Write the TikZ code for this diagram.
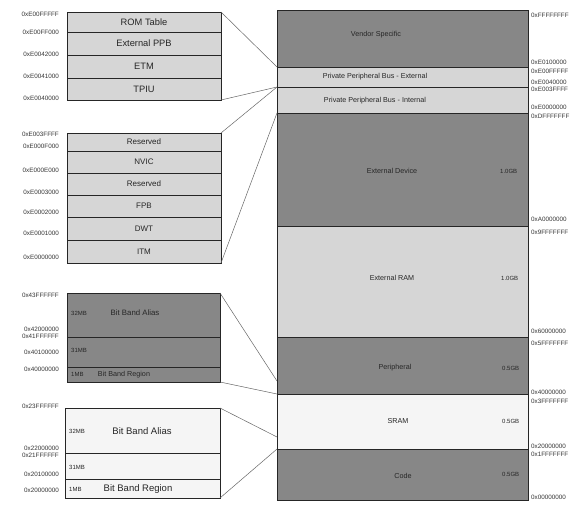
\documentclass[tikz,border=0pt]{standalone}
\usepackage{fontspec}
\setmainfont{Liberation Sans}
\begin{document}
\begin{tikzpicture}[x=1pt,y=-1pt,
  region/.style={draw=black!85, line width=0.7pt, inner sep=0pt, outer sep=0pt, anchor=north west},
  dark/.style={fill=black!47},
  light/.style={fill=black!16},
  pale/.style={fill=black!4},
  txt/.style={font=\fontsize{7.2}{8}\selectfont, inner sep=0pt, text=black!85},
  ltxt/.style={font=\fontsize{9.3}{10}\selectfont, text=black!85},
  mtxt/.style={font=\fontsize{8}{9}\selectfont, text=black!85},
  addr/.style={font=\fontsize{6.3}{7}\selectfont, inner sep=0pt, anchor=west, text=black!80},
  laddr/.style={font=\fontsize{6.3}{7}\selectfont, inner sep=0pt, anchor=east, text=black!80},
  small/.style={font=\fontsize{6}{7}\selectfont, inner sep=0pt, anchor=west, text=black!85},
  conn/.style={draw=black!60, line width=0.5pt}
]
\useasboundingbox (0,0) rectangle (586,506);

% ---------- right column ----------
\node[region,dark, minimum width=251pt,minimum height=57pt]  (vendor) at (277,10) {};
\node[region,light,minimum width=251pt,minimum height=20pt]  (ppbx)   at (277,67) {};
\node[region,light,minimum width=251pt,minimum height=26pt]  (ppbi)   at (277,87) {};
\node[region,dark, minimum width=251pt,minimum height=113pt] (extdev) at (277,113) {};
\node[region,light,minimum width=251pt,minimum height=111pt] (extram) at (277,226) {};
\node[region,dark, minimum width=251pt,minimum height=57pt]  (periph) at (277,337) {};
\node[region,pale, minimum width=251pt,minimum height=55pt]  (sram)   at (277,394) {};
\node[region,dark, minimum width=251pt,minimum height=51pt]  (code)   at (277,449) {};

\node[txt] (tvendor) at (376,35)  {Vendor Specific};
\node[txt] (tppbx)   at (375,77)  {Private Peripheral Bus - External};
\node[txt] (tppbi)   at (375,101) {Private Peripheral Bus - Internal};
\node[txt] (textdev) at (392,171) {External Device};
\node[txt] (textram) at (392,278) {External RAM};
\node[txt] (tperiph) at (395,368) {Peripheral};
\node[txt] (tsram)   at (398,421) {SRAM};
\node[txt] (tcode)   at (403,476) {Code};

\node[small] (g1) at (500,171) {1.0GB};
\node[small] (g2) at (501,278) {1.0GB};
\node[small] (g3) at (502,368) {0.5GB};
\node[small] (g4) at (502,421) {0.5GB};
\node[small] (g5) at (502,474) {0.5GB};

\node[addr] (r1)  at (531,15)  {0xFFFFFFFF};
\node[addr] (r2)  at (531,62)  {0xE0100000};
\node[addr] (r3)  at (531,71)  {0xE00FFFFF};
\node[addr] (r4)  at (531,82)  {0xE0040000};
\node[addr] (r5)  at (531,89)  {0xE003FFFF};
\node[addr] (r6)  at (531,107) {0xE0000000};
\node[addr] (r7)  at (531,116) {0xDFFFFFFF};
\node[addr] (r8)  at (531,219) {0xA0000000};
\node[addr] (r9)  at (531,232) {0x9FFFFFFF};
\node[addr] (r10) at (531,331) {0x60000000};
\node[addr] (r11) at (531,343) {0x5FFFFFFF};
\node[addr] (r12) at (531,392) {0x40000000};
\node[addr] (r13) at (531,401) {0x3FFFFFFF};
\node[addr] (r14) at (531,446) {0x20000000};
\node[addr] (r15) at (531,454) {0x1FFFFFFF};
\node[addr] (r16) at (531,497) {0x00000000};

% ---------- left: PPB external ----------
\node[region,light,minimum width=154pt,minimum height=20pt,ltxt] (rom)    at (67,12) {ROM Table};
\node[region,light,minimum width=154pt,minimum height=23pt,ltxt] (extppb) at (67,32) {External PPB};
\node[region,light,minimum width=154pt,minimum height=23pt,ltxt] (etm)    at (67,55) {ETM};
\node[region,light,minimum width=154pt,minimum height=22pt,ltxt] (tpiu)   at (67,78) {TPIU};

\node[laddr] (a1) at (59,14) {0xE00FFFFF};
\node[laddr] (a2) at (59,32) {0xE00FF000};
\node[laddr] (a3) at (59,54) {0xE0042000};
\node[laddr] (a4) at (59,76) {0xE0041000};
\node[laddr] (a5) at (59,98) {0xE0040000};

% ---------- left: PPB internal ----------
\node[region,light,minimum width=154pt,minimum height=18pt,mtxt] (res1) at (67,133) {Reserved};
\node[region,light,minimum width=154pt,minimum height=22pt,mtxt] (nvic) at (67,151) {NVIC};
\node[region,light,minimum width=154pt,minimum height=22pt,mtxt] (res2) at (67,173) {Reserved};
\node[region,light,minimum width=154pt,minimum height=22pt,mtxt] (fpb)  at (67,195) {FPB};
\node[region,light,minimum width=154pt,minimum height=23pt,mtxt] (dwt)  at (67,217) {DWT};
\node[region,light,minimum width=154pt,minimum height=23pt,mtxt] (itm)  at (67,240) {ITM};

\node[laddr] (b1) at (59,134) {0xE003FFFF};
\node[laddr] (b2) at (59,146) {0xE000F000};
\node[laddr] (b3) at (59,170) {0xE000E000};
\node[laddr] (b4) at (59,192) {0xE0003000};
\node[laddr] (b5) at (59,212) {0xE0002000};
\node[laddr] (b6) at (59,233) {0xE0001000};
\node[laddr] (b7) at (59,257) {0xE0000000};

% ---------- left: peripheral bit band ----------
\node[region,dark,minimum width=153pt,minimum height=44pt] (palias) at (67,293) {};
\node[region,dark,minimum width=153pt,minimum height=30pt] (p31)    at (67,337) {};
\node[region,dark,minimum width=153pt,minimum height=15pt] (prgn)   at (67,367) {};
\node[small] (pa1) at (71,313) {32MB};
\node[txt,font=\fontsize{7.8}{8}\selectfont] (pa2) at (135,313) {Bit Band Alias};
\node[small] (pb1) at (71,350) {31MB};
\node[small] (pc1) at (71,374.5) {1MB};
\node[txt,font=\fontsize{7.2}{8}\selectfont] (pc2) at (124,374.5) {Bit Band Region};

\node[laddr] (c1) at (59,295) {0x43FFFFFF};
\node[laddr] (c2) at (59,329) {0x42000000};
\node[laddr] (c3) at (59,336) {0x41FFFFFF};
\node[laddr] (c4) at (59,352) {0x40100000};
\node[laddr] (c5) at (59,369) {0x40000000};

% ---------- left: SRAM bit band ----------
\node[region,pale,minimum width=155pt,minimum height=45pt] (salias) at (65,408) {};
\node[region,pale,minimum width=155pt,minimum height=26pt] (s31)    at (65,453) {};
\node[region,pale,minimum width=155pt,minimum height=19pt] (srgn)   at (65,479) {};
\node[small] (sa1) at (69,431) {32MB};
\node[txt,font=\fontsize{9.5}{10}\selectfont] (sa2) at (142,431) {Bit Band Alias};
\node[small] (sb1) at (69,467) {31MB};
\node[small] (sc1) at (69,489) {1MB};
\node[txt,font=\fontsize{9.5}{10}\selectfont] (sc2) at (138,489) {Bit Band Region};

\node[laddr] (d1) at (59,406) {0x23FFFFFF};
\node[laddr] (d2) at (59,448) {0x22000000};
\node[laddr] (d3) at (59,455) {0x21FFFFFF};
\node[laddr] (d4) at (59,474) {0x20100000};
\node[laddr] (d5) at (59,490) {0x20000000};

% ---------- connectors ----------
\coordinate (pbtop) at (277,381);
\coordinate (sbtop) at (277,437);
\draw[conn] (rom.north east)  -- (ppbx.north west);
\draw[conn] (tpiu.south east) -- (ppbx.south west);
\draw[conn] (res1.north east) -- (ppbi.north west);
\draw[conn] (itm.south east)  -- (ppbi.south west);
\draw[conn] (palias.north east) -- (pbtop);
\draw[conn] (prgn.south east)   -- (periph.south west);
\draw[conn] (salias.north east) -- (sbtop);
\draw[conn] (srgn.south east)   -- (sram.south west);
\end{tikzpicture}
\end{document}
